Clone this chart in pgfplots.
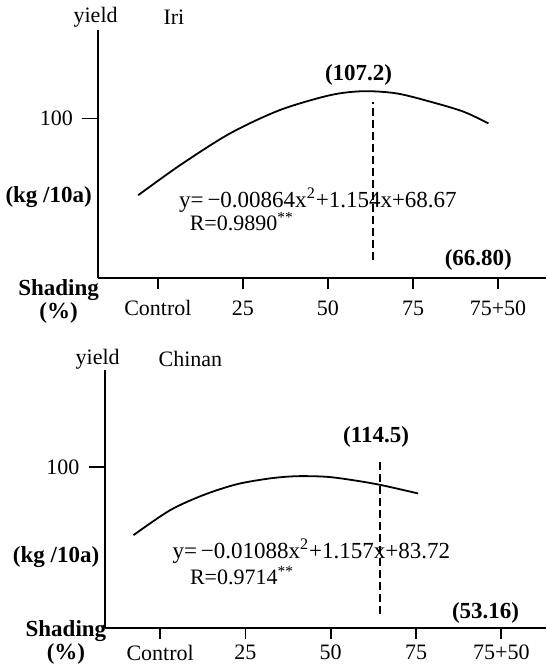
\documentclass[border=0pt]{standalone}
\usepackage{fontspec}
\setmainfont{Liberation Serif}
\usepackage{pgfplots}
\pgfplotsset{compat=1.18}

% common look of both panels
\pgfplotsset{panel/.style={
    scale only axis, anchor=south west, clip=false,
    axis x line=bottom, axis y line=left,
    axis line style={-, line width=1pt},
    tick align=outside, major tick length=5.5pt,
    tick style={line width=0.9pt, black},
    xtick={0,25,50,75,100},
    xticklabels={Control,25,50,75,75+50},
    ytick=\empty,
    extra y ticks={100}, extra y tick labels={100},
    extra tick style={major tick length=8pt, tick style={line width=0.9pt, black}},
    ymin=60,
    font=\fontsize{11}{13}\selectfont,
    yticklabel style={anchor=east, xshift=-1pt},
  },
  curve/.style={black, line width=0.9pt, smooth, mark=none},
  peak/.style={black, line width=1.1pt, dash pattern=on 4pt off 2pt},
}
\tikzset{
  big/.style={font=\fontsize{11.5}{14}\selectfont\bfseries},
  eq/.style={anchor=west, font=\fontsize{11.5}{13}\selectfont},
}

\begin{document}
\begin{tikzpicture}
\path[use as bounding box] (0,0) rectangle (273pt,333.5pt);

% ---- Iri ----
\begin{axis}[panel, at={(49pt,194.25pt)}, width=224pt, height=124.25pt,
    xmin=-17.6, xmax=114.1, ymax=122.1,
    xticklabel style={anchor=center, yshift=-9.3pt}]
  \addplot[curve] coordinates {
    (-5.8,80.8) (6.5,88.3) (21.2,96.25) (35.9,102.1) (50.6,105.8)
    (60.4,106.8) (70.2,106.25) (80.0,104.2) (89.8,101.7) (97.2,98.75)};
  \addplot[peak] coordinates {(63.2,64.6) (63.2,104.2)};
  \node at (axis cs:-18.3,125.4) {yield};
  \node[anchor=west] at (axis cs:-0.4,125.4) {Iri};
  \node[big] at (axis cs:59.0,110.8) {(107.2)};
  \node[big] at (axis cs:94.2,64.6) {(66.80)};
  \node[eq] at (axis cs:4.2,79.6) {y=\,−0.00864x\textsuperscript{2}+1.154x+68.67};
  \node[anchor=west] at (axis cs:7.3,74.2) {R=0.9890\textsuperscript{**}};
  \node[big] at (axis cs:-32.1,80.4) {(kg /10a)};
  \node[big, align=center, font=\fontsize{11.5}{11.5}\selectfont\bfseries]
    at (axis cs:-29.2,54.2) {Shading\\(\%)};
\end{axis}

% ---- Chinan ----
\begin{axis}[panel, at={(52.25pt,19.65pt)}, width=220.75pt, height=128.85pt,
    xmin=-16.3, xmax=113.1, ymax=124.3,
    xticklabel style={anchor=center, yshift=-7pt}]
  \addplot[curve] coordinates {
    (-7.8,83.1) (2.9,89.3) (12.7,93.1) (22.5,95.8) (32.2,97.25)
    (40.0,97.8) (48.8,97.65) (56.6,96.8) (64.7,95.6) (75.6,93.5)};
  \addplot[peak] coordinates {(64.5,63.5) (64.5,102.25)};
  \node at (axis cs:-18.3,127.0) {yield};
  \node[anchor=west] at (axis cs:-2.5,127.0) {Chinan};
  \node[big] at (axis cs:63.3,107.65) {(114.5)};
  \node[big] at (axis cs:95.4,63.65) {(53.16)};
  \node[eq] at (axis cs:1.6,79.15) {y=\,−0.01088x\textsuperscript{2}+1.157x+83.72};
  \node[anchor=west] at (axis cs:6.7,73.1) {R=0.9714\textsuperscript{**}};
  \node[big] at (axis cs:-30.5,77.65) {(kg /10a)};
  \node[big, align=center, font=\fontsize{11.5}{9.5}\selectfont\bfseries]
    at (axis cs:-27.6,56.3) {Shading\\(\%)};
\end{axis}
\end{tikzpicture}
\end{document}
